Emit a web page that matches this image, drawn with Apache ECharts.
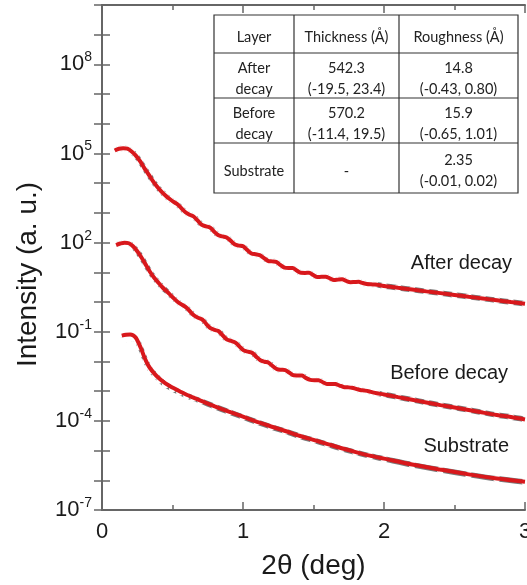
<!DOCTYPE html>
<html>
<head>
<meta charset="utf-8">
<script src="https://cdn.jsdelivr.net/npm/echarts@6/dist/echarts.min.js"></script>
<style>
  html, body { margin: 0; padding: 0; background: #fff; }
  #chart { width: 527px; height: 585px; }
</style>
</head>
<body>
<div id="chart"></div>
<script>
// Reflectivity curves: 2θ (deg) vs intensity (a. u.)
const angleAfter = [0.09,0.12,0.15,0.18,0.21,0.24,0.27,0.30,0.33,0.36,0.39,0.42,0.45,0.48,0.505,
  0.533,0.562,0.592,0.621,0.650,0.679,0.709,0.738,0.767,0.796,0.826,0.855,0.884,0.913,0.943,0.972,
  1.001,1.030,1.060,1.089,1.118,1.147,1.177,1.206,1.235,1.264,1.294,1.323,1.352,1.381,1.411,1.440,
  1.469,1.498,1.528,1.557,1.586,1.615,1.645,1.674,1.703,1.732,1.762,1.791,1.820,1.849,1.879,1.908,1.937,
  2.0,2.1,2.2,2.3,2.4,2.5,2.6,2.7,2.8,2.9,3.0];
const intensityAfter = [1.26e5,1.45e5,1.51e5,1.45e5,1.17e5,8.51e4,5.50e4,3.24e4,2.00e4,1.20e4,7.76e3,5.37e3,3.89e3,2.95e3,2.40e3,
  2.00e3,1.46e3,1.06e3,871,759,550,394,355,320,234,176,162,150,115,86.1,79.4,
  75.0,56.2,43.2,40.7,38.0,30.9,24.5,23.4,22.4,17.8,14.5,14.1,14.1,11.5,9.66,9.55,
  9.66,8.13,7.00,7.08,7.08,6.31,5.50,5.69,5.82,5.13,4.68,4.73,4.79,4.37,4.03,3.94,3.89,
  3.47,3.02,2.63,2.29,2.00,1.74,1.51,1.32,1.15,1.00,0.871];

const angleBefore = [0.10,0.13,0.16,0.19,0.22,0.25,0.28,0.31,0.34,0.37,0.40,0.43,
  0.474,0.504,0.533,0.563,0.592,0.622,0.651,0.681,0.710,0.740,0.769,0.799,0.828,0.858,0.887,0.917,
  0.946,0.976,1.005,1.035,1.064,1.094,1.123,1.153,1.182,1.212,1.241,1.271,1.300,1.330,1.359,1.389,
  1.418,1.448,1.477,1.507,1.536,1.566,1.595,1.625,1.654,1.684,1.713,1.743,1.772,1.802,1.831,1.861,
  1.890,1.920,1.949,2.0,2.1,2.2,2.3,2.4,2.5,2.6,2.7,2.8,2.9,3.0];
const intensityBefore = [83.2,93.3,100,95.5,75.9,51.3,31.6,18.2,10.5,6.61,4.47,3.09,
  1.97,1.41,1.05,0.832,0.692,0.501,0.359,0.295,0.260,0.182,0.133,0.115,0.104,0.0741,0.0543,0.0490,
  0.0432,0.0316,0.0237,0.0214,0.0197,0.0145,0.0110,0.00977,0.00912,0.00692,0.00550,0.00525,0.00513,0.00417,0.00343,0.00339,
  0.00335,0.00275,0.00240,0.00234,0.00234,0.00200,0.00176,0.00176,0.00174,0.00155,0.00139,0.00135,0.00130,0.00120,0.00110,0.00105,
  9.95e-4,9.12e-4,8.51e-4,7.76e-4,6.31e-4,5.13e-4,4.17e-4,3.39e-4,2.82e-4,2.34e-4,1.91e-4,1.58e-4,1.35e-4,1.12e-4];

const angleSubstrateFit = [0.14,0.17,0.20,0.22,0.24,0.26,0.28,0.30,0.32,0.34,0.37,0.40,0.45,0.50,0.55,0.60,0.65,0.70,
  0.80,0.90,1.00,1.10,1.20,1.30,1.40,1.50,1.60,1.70,1.80,1.90,2.00,2.20,2.40,2.60,2.80,3.00];
const intensitySubstrateFit = [0.0741,0.0794,0.0813,0.0759,0.0631,0.0417,0.0251,0.0141,0.00871,0.00603,0.00398,0.00282,0.00182,0.00132,0.00100,7.59e-4,6.03e-4,4.79e-4,
  3.09e-4,2.04e-4,1.38e-4,9.33e-5,6.46e-5,4.57e-5,3.16e-5,2.29e-5,1.66e-5,1.20e-5,8.91e-6,6.76e-6,5.37e-6,3.39e-6,2.29e-6,1.58e-6,1.15e-6,8.91e-7];

const angleSubstrateObs = [0.13,0.16,0.19,0.22,0.25,0.27,0.29,0.31,0.33,0.35,0.38,0.41,0.45,0.50,0.55,0.60,0.65,0.70,
  0.80,0.90,1.00,1.10,1.20,1.30,1.40,1.50,1.60,1.70,1.80,1.90,2.00,2.20,2.40,2.60,2.80,3.00];
const intensitySubstrateObs = [0.0501,0.0537,0.0575,0.0603,0.0479,0.0316,0.0182,0.0105,0.00676,0.00490,0.00339,0.00240,0.00166,0.00120,9.12e-4,7.08e-4,5.75e-4,4.68e-4,
  3.02e-4,2.00e-4,1.35e-4,9.12e-5,6.31e-5,4.47e-5,3.09e-5,2.24e-5,1.62e-5,1.17e-5,8.71e-6,6.61e-6,5.25e-6,3.31e-6,2.24e-6,1.55e-6,1.12e-6,8.71e-7];

const curveNames = ['After decay', 'Before decay', 'Substrate'];
const xTickLabels = [0, 1, 2, 3];
const yLabelExponents = [-7, -4, -1, 2, 5, 8];

// Fit-parameter table
const tableHeader = ['Layer', 'Thickness (Å)', 'Roughness (Å)'];
const tableLayer = ['After\ndecay', 'Before\ndecay', 'Substrate'];
const tableThickness = ['542.3\n(-19.5, 23.4)', '570.2\n(-11.4, 19.5)', '-'];
const tableRoughness = ['14.8\n(-0.43, 0.80)', '15.9\n(-0.65, 1.01)', '2.35\n(-0.01, 0.02)'];

const zip = (xs, ys) => xs.map((x, i) => [x, ys[i]]);

const FONT = "'Liberation Sans', Arial, sans-serif";
const AXIS_COLOR = '#666';
const FIT_RED = '#d8181c';
const OBS_GRAY = '#7a7a7a';

function obsSeries(name, data) {
  return {
    name: name + ' (measured)', type: 'line', data, smooth: 0.3,
    showAllSymbol: true, symbol: 'emptyCircle', symbolSize: 5,
    itemStyle: { color: '#fff', borderColor: OBS_GRAY, borderWidth: 1 },
    lineStyle: { color: OBS_GRAY, width: 5.5 },
    z: 2, silent: true, animation: false
  };
}
function fitSeries(name, data) {
  return {
    name: name + ' (fit)', type: 'line', data, smooth: 0.3, showSymbol: false,
    lineStyle: { color: FIT_RED, width: 4 }, z: 3, silent: true, animation: false
  };
}

// table graphic
const colEdges = [214, 294, 399, 518];
const rowEdges = [15, 53, 98, 143, 193];
const tableEls = [{
  type: 'rect', shape: { x: colEdges[0], y: rowEdges[0], width: colEdges[3] - colEdges[0], height: rowEdges[4] - rowEdges[0] },
  style: { fill: '#fff', stroke: '#333', lineWidth: 1.2 }, z: 10
}];
colEdges.slice(1, 3).forEach(cx => tableEls.push({
  type: 'line', shape: { x1: cx, y1: rowEdges[0], x2: cx, y2: rowEdges[4] }, style: { stroke: '#333', lineWidth: 1.2 }, z: 11
}));
rowEdges.slice(1, 4).forEach(ry => tableEls.push({
  type: 'line', shape: { x1: colEdges[0], y1: ry, x2: colEdges[3], y2: ry }, style: { stroke: '#333', lineWidth: 1.2 }, z: 11
}));
const rows = [tableHeader].concat(tableLayer.map((l, i) => [l, tableThickness[i], tableRoughness[i]]));
rows.forEach((row, r) => row.forEach((txt, c) => tableEls.push({
  type: 'text', z: 12,
  x: (colEdges[c] + colEdges[c + 1]) / 2, y: (rowEdges[r] + rowEdges[r + 1]) / 2 + 3,
  style: { text: txt, fill: '#222', font: "14.5px Lato, 'Open Sans', sans-serif", lineHeight: 21,
    align: 'center', verticalAlign: 'middle', textAlign: 'center', textVerticalAlign: 'middle' }
})));

const labelPos = [[512, 263], [508, 373], [509, 446]];
const curveLabelEls = curveNames.map((n, i) => ({
  type: 'text', z: 12, x: labelPos[i][0], y: labelPos[i][1],
  style: { text: n, fill: '#1a1a1a', font: '20px ' + FONT, align: 'right', verticalAlign: 'middle', textAlign: 'right', textVerticalAlign: 'middle' }
}));

const chart = echarts.init(document.getElementById('chart'), null, { renderer: 'canvas' });
const yCommon = {
  type: 'log', logBase: 10, min: 1e-7, max: 1e10, interval: 1,
  axisLine: { show: true, lineStyle: { color: AXIS_COLOR, width: 2 } },
  axisTick: { show: true, inside: true, length: 8, lineStyle: { color: AXIS_COLOR, width: 1.5 } },
  splitLine: { show: false }, minorTick: { show: false }
};
const xCommon = {
  type: 'value', min: 0, max: 3, interval: 1,
  axisLine: { show: true, onZero: false, lineStyle: { color: AXIS_COLOR, width: 2 } },
  axisTick: { show: true, inside: true, length: 8, lineStyle: { color: AXIS_COLOR, width: 1.5 } },
  minorTick: { show: true, splitNumber: 2, length: 5, lineStyle: { color: AXIS_COLOR, width: 1.5 } },
  splitLine: { show: false }, minorSplitLine: { show: false }
};

chart.setOption({
  animation: false,
  backgroundColor: '#fff',
  grid: { left: 102, right: 2, top: 5, bottom: 75, containLabel: false, outerBoundsMode: 'none' },
  xAxis: [
    Object.assign({}, xCommon, {
      position: 'bottom',
      name: '2θ (deg)', nameLocation: 'middle', nameGap: 42,
      nameTextStyle: { fontFamily: FONT, fontSize: 28, color: '#1a1a1a' },
      axisLabel: { show: true, margin: 11, fontFamily: FONT, fontSize: 22, color: '#1a1a1a', showMaxLabel: true, showMinLabel: true,
        formatter: v => (xTickLabels.includes(v) ? String(v) : '') }
    }),
    Object.assign({}, xCommon, { position: 'top', axisLabel: { show: false } })
  ],
  yAxis: [
    Object.assign({}, yCommon, {
      position: 'left',
      name: 'Intensity (a. u.)', nameLocation: 'middle', nameGap: 60,
      nameTextStyle: { fontFamily: FONT, fontSize: 28, color: '#1a1a1a', padding: [0, 34, 0, 0] },
      axisLabel: {
        show: true, margin: 10, showMinLabel: true, showMaxLabel: true,
        formatter: v => {
          const p = Math.log10(v);
          const e = Math.round(p);
          return (Math.abs(p - e) < 1e-6 && yLabelExponents.includes(e)) ? '{b|10}{e|' + e + '}' : '';
        },
        rich: {
          b: { fontFamily: FONT, fontSize: 22, color: '#1a1a1a', lineHeight: 28 },
          e: { fontFamily: FONT, fontSize: 14, color: '#1a1a1a', verticalAlign: 'top', lineHeight: 16 }
        }
      }
    }),
    Object.assign({}, yCommon, { position: 'right', axisLabel: { show: false } })
  ],
  series: [
    obsSeries(curveNames[0], zip(angleAfter, intensityAfter)),
    obsSeries(curveNames[1], zip(angleBefore, intensityBefore)),
    obsSeries(curveNames[2], zip(angleSubstrateObs, intensitySubstrateObs)),
    fitSeries(curveNames[0], zip(angleAfter, intensityAfter)),
    fitSeries(curveNames[1], zip(angleBefore, intensityBefore)),
    fitSeries(curveNames[2], zip(angleSubstrateFit, intensitySubstrateFit))
  ],
  graphic: tableEls.concat(curveLabelEls)
});
</script>
</body>
</html>
